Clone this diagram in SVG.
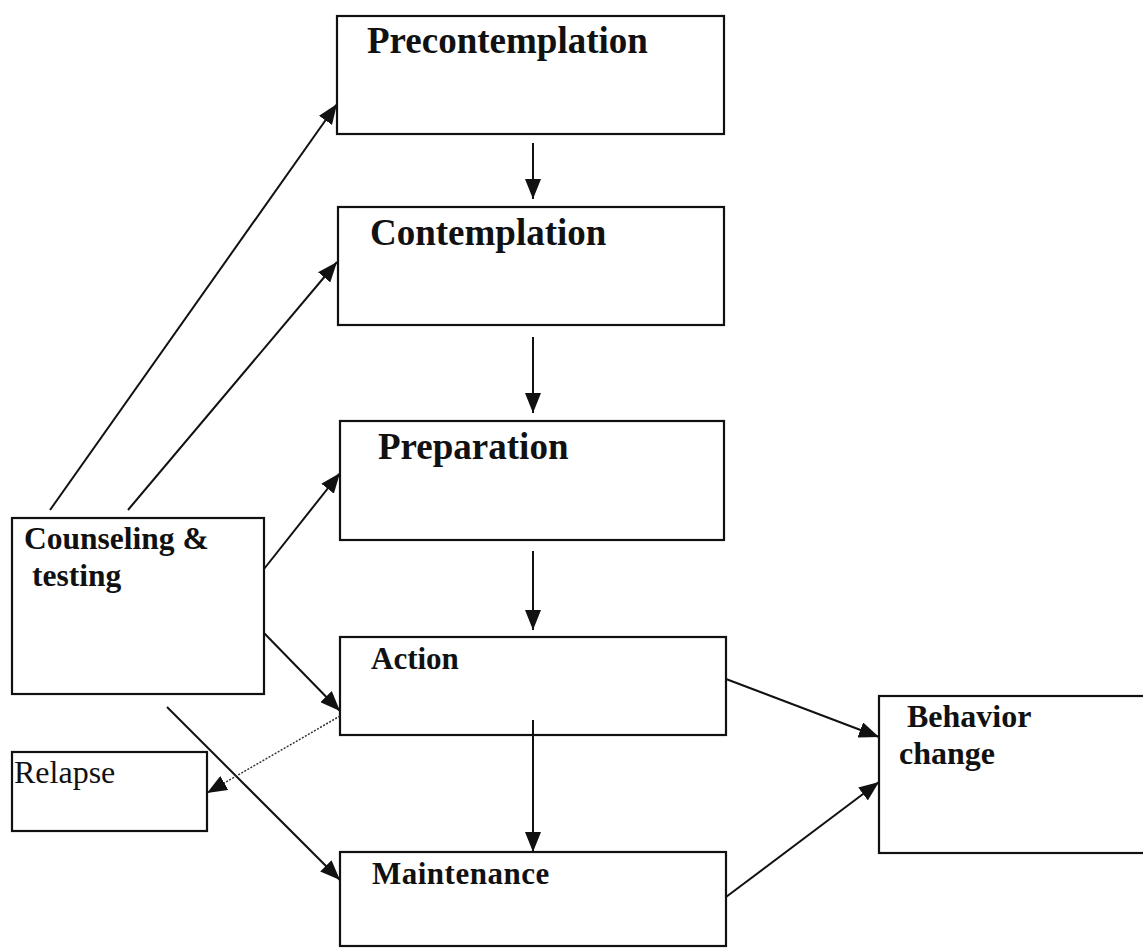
<svg xmlns="http://www.w3.org/2000/svg" width="1143" height="950" viewBox="0 0 1143 950">
<style>
.box{fill:#fff;stroke:#111;stroke-width:2.2}
.t{font-family:"Liberation Serif","Times New Roman",serif;font-weight:bold;fill:#111}
.r{font-family:"Liberation Serif","Times New Roman",serif;fill:#111}
.c{stroke:#111;stroke-width:2;fill:none}
.d{stroke:#333;stroke-width:1.5;stroke-dasharray:2 1.5;fill:none}
</style>
<defs>
<marker id="ah" markerUnits="userSpaceOnUse" markerWidth="22" markerHeight="16" refX="20" refY="8" orient="auto">
<path d="M0,0 L20,8 L0,16 Z" fill="#111"/>
</marker>
</defs>
<rect width="1143" height="950" fill="#fff"/>
<g id="precontemplation"><rect class="box" x="337" y="16" width="387" height="118"/><text class="t" x="367" y="53" font-size="37">Precontemplation</text></g>
<g id="contemplation"><rect class="box" x="338" y="207" width="386" height="118"/><text class="t" x="370" y="245" font-size="37">Contemplation</text></g>
<g id="preparation"><rect class="box" x="340" y="421" width="384" height="119"/><text class="t" x="378" y="459" font-size="37">Preparation</text></g>
<g id="action"><rect class="box" x="340" y="637" width="386" height="98"/><text class="t" x="371" y="669" font-size="31">Action</text></g>
<g id="maintenance"><rect class="box" x="340" y="852" width="386" height="94"/><text class="t" x="372" y="884" font-size="31" letter-spacing="0.5">Maintenance</text></g>
<g id="behavior"><rect class="box" x="879" y="696" width="270" height="157"/><text class="t" x="907" y="727" font-size="32">Behavior</text><text class="t" x="899" y="764" font-size="32">change</text></g>
<g id="counseling"><rect class="box" x="12" y="518" width="252" height="176"/><text class="t" x="24" y="549" font-size="31.5">Counseling &amp;</text><text class="t" x="32" y="586" font-size="31.5">testing</text></g>
<g id="relapse"><rect class="box" x="12" y="752" width="195" height="79"/><text class="r" x="14" y="783" font-size="32">Relapse</text></g>
<g id="connectors">
<line class="c" x1="50" y1="510" x2="337" y2="104" marker-end="url(#ah)"/>
<line class="c" x1="128" y1="510" x2="337" y2="262" marker-end="url(#ah)"/>
<line class="c" x1="264" y1="569" x2="340" y2="473" marker-end="url(#ah)"/>
<line class="c" x1="264" y1="633" x2="340" y2="711" marker-end="url(#ah)"/>
<line class="c" x1="167" y1="707" x2="340" y2="880" marker-end="url(#ah)"/>
<line class="d" x1="340" y1="716" x2="207" y2="793" marker-end="url(#ah)"/>
<line class="c" x1="533" y1="143" x2="533" y2="199" marker-end="url(#ah)"/>
<line class="c" x1="533" y1="337" x2="533" y2="413" marker-end="url(#ah)"/>
<line class="c" x1="533" y1="551" x2="533" y2="630" marker-end="url(#ah)"/>
<line class="c" x1="533" y1="720" x2="533" y2="852" marker-end="url(#ah)"/>
<line class="c" x1="726" y1="679" x2="879" y2="737" marker-end="url(#ah)"/>
<line class="c" x1="726" y1="897" x2="879" y2="782" marker-end="url(#ah)"/>
</g>
</svg>
